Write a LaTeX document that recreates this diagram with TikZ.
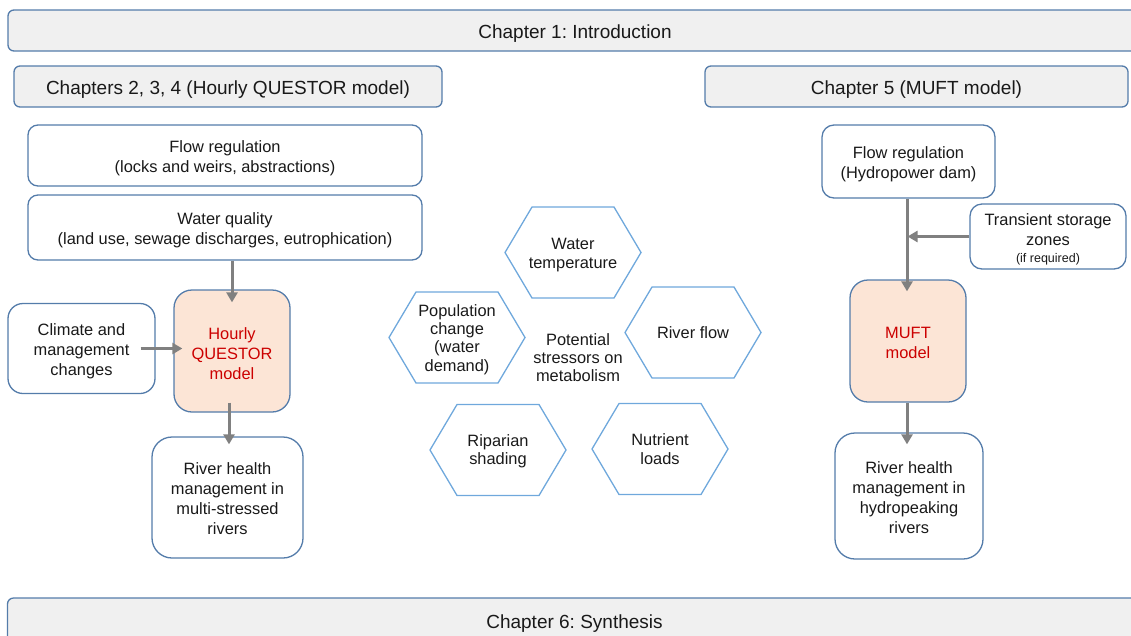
\documentclass[tikz,border=0pt]{standalone}
\usepackage{fontspec}
\setmainfont{Liberation Sans}
\frenchspacing
\usetikzlibrary{arrows.meta,calc}
\definecolor{bordc}{RGB}{84,124,170}
\definecolor{hexc}{RGB}{111,168,220}
\definecolor{barfill}{RGB}{240,240,240}
\definecolor{peach}{RGB}{252,229,214}
\definecolor{redtxt}{RGB}{204,0,0}
\definecolor{arrc}{RGB}{128,128,128}
% box shape node + text node: #1 box style, #2 text style, #3 name, #4 x, #5 y, #6 text shift, #7 text
\newcommand{\bx}[7]{%
  \node[#1] (#3) at (#4,#5) {};
  \node[#2] (#3-t) at ($(#3.center)+(0,#6)$) {#7};
}
% hexagon: #1 name, #2 cx, #3 cy, #4 text shift, #5 text
\newcommand{\hexnode}[5]{%
  \coordinate (#1) at (#2,#3);
  \draw[hexline] ($(#1)+(-68,0)$) -- ++(27,-45.5) -- ++(82,0) -- ++(27,45.5) -- ++(-27,45.5) -- ++(-82,0) -- cycle;
  \node[hexlbl] (#1-t) at ($(#1)+(0,#4)$) {#5};
}
\begin{document}
\begin{tikzpicture}[x=1pt,y=-1pt,
  every node/.style={inner sep=0pt, align=center},
  txt/.style={font=\fontsize{16.4}{20}\selectfont, text=black!90},
  htxt/.style={font=\fontsize{19}{23}\selectfont, text=black!90},
  rtxt/.style={font=\fontsize{16.4}{20}\selectfont, text=redtxt},
  box/.style={draw=bordc, line width=1.3pt, rounded corners=#1, fill=white},
  box/.default=12pt,
  bar/.style={draw=bordc, line width=1.3pt, rounded corners=6pt, fill=barfill},
  model/.style={draw=bordc, line width=1.3pt, rounded corners=18pt, fill=peach},
  hexlbl/.style={font=\fontsize{16.4}{18.3}\selectfont, text=black!90},
  hexline/.style={draw=hexc, line width=1.3pt, line join=miter},
  arr/.style={draw=arrc, line width=3pt, -{Triangle[length=10pt,width=11pt]}}
]
\useasboundingbox (0,0) rectangle (1131,635);

% chapter bars
\bx{bar, minimum width=1134pt, minimum height=41pt}{htxt}{ch1}{575}{30.5}{3}{Chapter 1: Introduction}
\bx{bar, minimum width=1134pt, minimum height=46pt}{htxt}{ch6}{574.5}{621}{3}{Chapter 6: Synthesis}
\bx{bar, minimum width=428pt, minimum height=41pt}{htxt}{ch2}{228}{86.5}{3}{Chapters 2, 3, 4 (Hourly QUESTOR model)}
\bx{bar, minimum width=423pt, minimum height=41pt}{htxt}{ch5}{916.5}{86.5}{3}{Chapter 5 (MUFT model)}

% left column
\bx{box=10pt, minimum width=394pt, minimum height=61pt}{txt}{fr}{225}{155.5}{2.5}{Flow regulation\\(locks and weirs, abstractions)}
\bx{box=10pt, minimum width=394pt, minimum height=65pt}{txt}{wq}{225}{227.5}{3}{Water quality\\ (land use, sewage discharges, eutrophication)}
\bx{model, minimum width=116pt, minimum height=122pt}{rtxt}{hq}{232}{351}{2.5}{Hourly\\QUESTOR\\model}
\bx{box=15pt, minimum width=147pt, minimum height=90pt}{txt}{clim}{81.5}{348.5}{3}{Climate and\\management\\changes}
\bx{box=20pt, minimum width=151pt, minimum height=121pt}{txt}{rh1}{227.5}{497.5}{1}{River health\\management in\\multi-stressed\\rivers}

% right column
\bx{box=12pt, minimum width=173pt, minimum height=73pt}{txt}{fr2}{908.5}{161.5}{3}{Flow regulation\\(Hydropower dam)}
\bx{box=12pt, minimum width=156pt, minimum height=65pt}{txt}{ts}{1048}{236.5}{2.5}{Transient storage\\zones\\[-3pt]{\fontsize{12.5}{14}\selectfont(if required)}}
\bx{model, minimum width=116pt, minimum height=122pt}{rtxt}{muft}{908}{341}{2}{MUFT\\model}
\bx{box=20pt, minimum width=148pt, minimum height=126pt}{txt}{rh2}{909}{496}{2}{River health\\management in\\hydropeaking\\rivers}

% stressors
\hexnode{wt}{573}{252.5}{2.5}{Water\\temperature}
\hexnode{pop}{457}{337.5}{2}{Population\\change\\(water\\demand)}
\hexnode{rf}{693}{332.5}{0}{River flow}
\hexnode{rs}{498}{450}{1}{Riparian\\shading}
\hexnode{nl}{660}{449}{0}{Nutrient\\loads}
\node[hexlbl] (pot) at (578,357.5) {Potential\\stressors on\\metabolism};

% arrows
\draw[arr] (wq.south -| hq.center) -- ($(hq.north)+(0,13)$);
\draw[arr] ($(clim.east)+(-15,0)$) -- ($(hq.west |- clim.east)+(9,0)$);
\draw[arr] ($(hq.south)+(-3,-10)$) -- ($(rh1.north -| hq.south)+(-3,8)$);
\draw[arr] ($(fr2.south)+(-1.5,0)$) -- ($(muft.north)+(-1,12)$);
\draw[arr] (ts.west) -- ($(ts.west -| fr2.south)+(-1,0)$);
\draw[arr] ($(muft.south)+(-1,0)$) -- ($(rh2.north)+(-2,12)$);
\end{tikzpicture}
\end{document}
